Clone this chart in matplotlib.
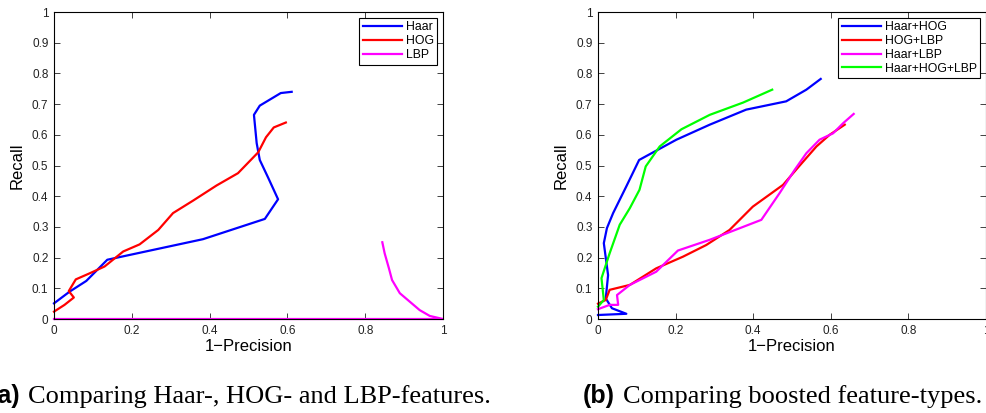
import matplotlib
matplotlib.use("Agg")
import matplotlib.pyplot as plt

# ---- data (x = 1-Precision, y = Recall) ----
haar_x = [0.0, 0.040, 0.083, 0.137, 0.383, 0.542, 0.576, 0.551, 0.529, 0.521, 0.514, 0.529, 0.583, 0.611]
haar_y = [0.051, 0.089, 0.124, 0.193, 0.260, 0.326, 0.390, 0.459, 0.518, 0.573, 0.665, 0.695, 0.736, 0.740]

hog_x = [0.0, 0.027, 0.051, 0.038, 0.056, 0.092, 0.130, 0.178, 0.220, 0.268, 0.306, 0.358,
         0.418, 0.473, 0.525, 0.545, 0.565, 0.596]
hog_y = [0.024, 0.046, 0.070, 0.091, 0.129, 0.149, 0.171, 0.220, 0.243, 0.290, 0.345, 0.386,
         0.435, 0.475, 0.543, 0.592, 0.624, 0.640]

lbp_x = [0.844, 0.850, 0.861, 0.869, 0.889, 0.940, 0.966, 1.0, 0.0]
lbp_y = [0.250, 0.214, 0.165, 0.127, 0.084, 0.029, 0.010, 0.0, 0.0]

haar_hog_x = [0.0, 0.073, 0.036, 0.020, 0.026, 0.015, 0.023, 0.039, 0.073, 0.106, 0.202, 0.288,
              0.382, 0.485, 0.537, 0.574]
haar_hog_y = [0.013, 0.017, 0.035, 0.067, 0.143, 0.247, 0.296, 0.345, 0.432, 0.518, 0.584, 0.633,
              0.682, 0.709, 0.747, 0.782]

hog_lbp_x = [0.0, 0.020, 0.030, 0.082, 0.150, 0.219, 0.279, 0.339, 0.399, 0.477, 0.520, 0.563,
             0.597, 0.636]
hog_lbp_y = [0.050, 0.062, 0.095, 0.111, 0.165, 0.203, 0.241, 0.290, 0.366, 0.437, 0.500, 0.562,
             0.600, 0.633]

haar_lbp_x = [0.0, 0.030, 0.052, 0.049, 0.082, 0.150, 0.206, 0.288, 0.421, 0.468, 0.507, 0.537,
              0.571, 0.606, 0.632, 0.659]
haar_lbp_y = [0.032, 0.046, 0.046, 0.078, 0.111, 0.154, 0.223, 0.258, 0.323, 0.410, 0.486, 0.540,
              0.584, 0.605, 0.638, 0.668]

all_x = [0.0, 0.015, 0.009, 0.030, 0.056, 0.082, 0.107, 0.123, 0.159, 0.215, 0.288, 0.374, 0.449]
all_y = [0.040, 0.062, 0.133, 0.214, 0.307, 0.361, 0.421, 0.497, 0.562, 0.618, 0.665, 0.705, 0.747]

x_ticks = [0, 0.2, 0.4, 0.6, 0.8, 1]
x_labels = ["0", "0.2", "0.4", "0.6", "0.8", "1"]
y_ticks = [0, 0.1, 0.2, 0.3, 0.4, 0.5, 0.6, 0.7, 0.8, 0.9, 1]
y_labels = ["0", "0.1", "0.2", "0.3", "0.4", "0.5", "0.6", "0.7", "0.8", "0.9", "1"]

plt.rcParams["font.family"] = ["Liberation Sans", "DejaVu Sans"]

W, H = 987, 413
fig = plt.figure(figsize=(W / 100, H / 100), dpi=100)


def make_axes(left_px, width_px):
    ax = fig.add_axes([left_px / W, (H - 319) / H, width_px / W, 307 / H])
    ax.set_xlim(0, 1)
    ax.set_ylim(0, 1)
    ax.set_xticks(x_ticks)
    ax.set_xticklabels(x_labels)
    ax.set_yticks(y_ticks)
    ax.set_yticklabels(y_labels)
    ax.tick_params(direction="in", top=True, right=True, length=4, width=0.6,
                   labelsize=8.5, colors="#222222", pad=4)
    for s in ax.spines.values():
        s.set_linewidth(0.8)
    ax.set_xlabel("1\u2212Precision", fontsize=12, labelpad=2)
    ax.set_ylabel("Recall", fontsize=12, labelpad=5)
    return ax


def add_legend(ax):
    leg = ax.legend(loc="upper right", fontsize=8.8, fancybox=False, edgecolor="black",
                    framealpha=1, handlelength=3.2, borderaxespad=0.45, labelspacing=0.15,
                    borderpad=0.3, handletextpad=0.3)
    leg.get_frame().set_linewidth(0.8)


lw = 1.6

ax1 = make_axes(54, 389)
ax1.plot(haar_x, haar_y, color=(0, 0, 1), lw=lw, label="Haar", clip_on=False)
ax1.plot(hog_x, hog_y, color=(1, 0, 0), lw=lw, label="HOG", clip_on=False)
ax1.plot(lbp_x, lbp_y, color=(1, 0, 1), lw=lw, label="LBP", clip_on=False)
add_legend(ax1)

ax2 = make_axes(598, 388)
ax2.plot(haar_hog_x, haar_hog_y, color=(0, 0, 1), lw=lw, label="Haar+HOG", clip_on=False)
ax2.plot(hog_lbp_x, hog_lbp_y, color=(1, 0, 0), lw=lw, label="HOG+LBP", clip_on=False)
ax2.plot(haar_lbp_x, haar_lbp_y, color=(1, 0, 1), lw=lw, label="Haar+LBP", clip_on=False)
ax2.plot(all_x, all_y, color=(0, 1, 0), lw=lw, label="Haar+HOG+LBP", clip_on=False)
add_legend(ax2)

# captions: bold sans label + serif text
cap_y = (H - 403) / H
fig.text(20 / W, cap_y, "(a)", fontsize=18, fontweight="bold", ha="right", va="baseline")
fig.text(28 / W, cap_y, "Comparing Haar-, HOG- and LBP-features.", fontsize=19,
         family="Liberation Serif", ha="left", va="baseline")
fig.text(615 / W, cap_y, "(b)", fontsize=18, fontweight="bold", ha="right", va="baseline")
fig.text(623 / W, cap_y, "Comparing boosted feature-types.", fontsize=19,
         family="Liberation Serif", ha="left", va="baseline")

fig.savefig("out.png", dpi=100)
